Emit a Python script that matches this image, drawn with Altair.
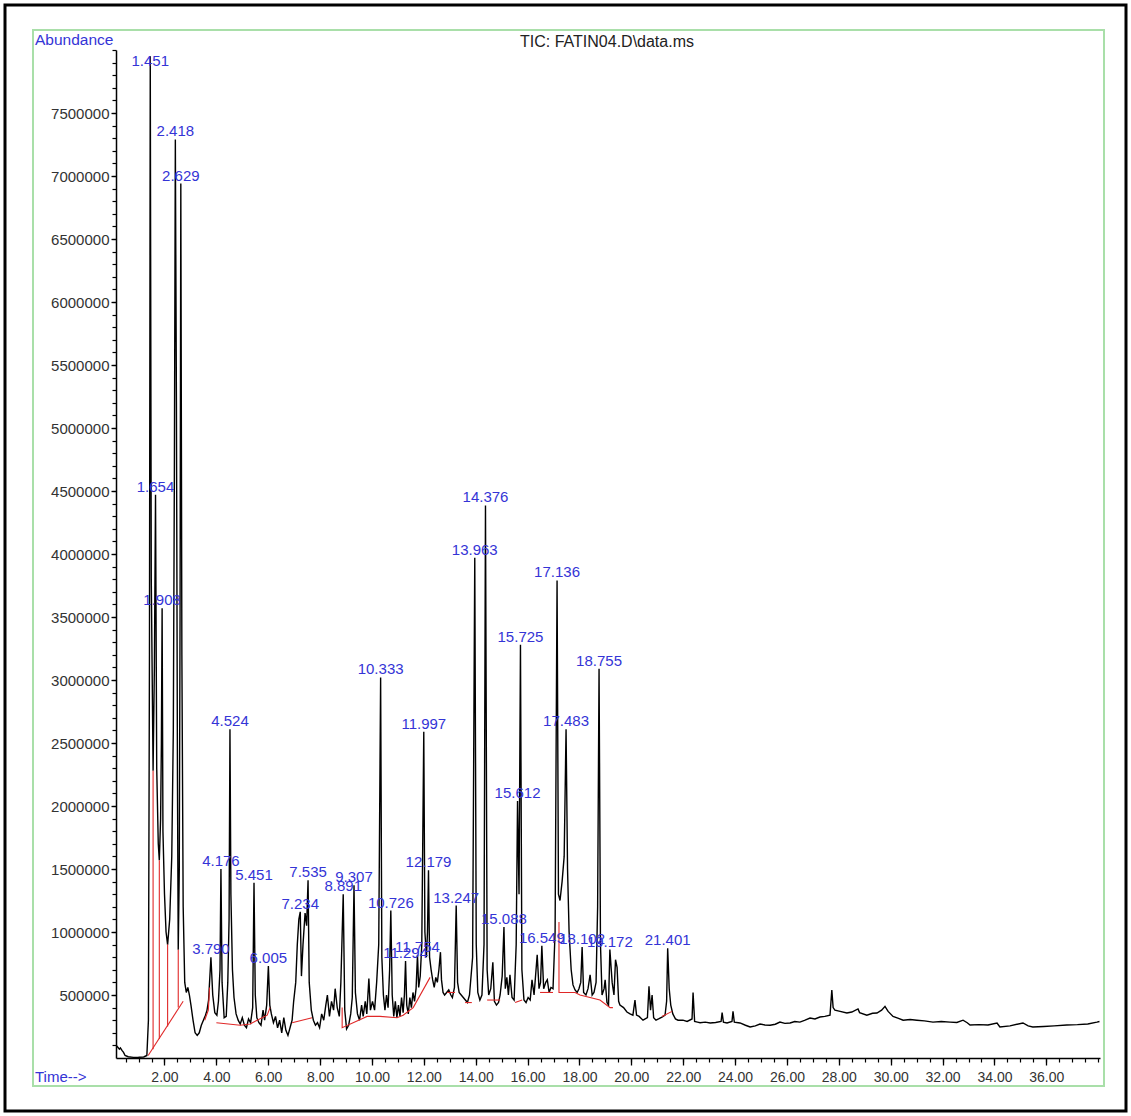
import altair as alt
import pandas as pd

# ---- labelled peaks: retention time text and apex abundance ----
peak_labels = ["1.451", "1.654", "1.908", "2.418", "2.629", "3.790", "4.176", "4.524",
               "5.451", "6.005", "7.234", "7.535", "8.891", "9.307", "10.333", "10.726",
               "11.294", "11.754", "11.997", "12.179", "13.247", "13.963", "14.376",
               "15.088", "15.612", "15.725", "16.549", "17.136", "17.483", "18.102",
               "18.755", "19.172", "21.401"]
peak_apex = [7950000, 4470000, 3570000, 7290000, 6940000, 800000, 1500000, 2610000,
             1390000, 730000, 1160000, 1410000, 1300000, 1370000, 3020000, 1170000,
             770000, 820000, 2590000, 1490000, 1210000, 3970000, 4385000,
             1040000, 2040000, 3280000, 890000, 3790000, 2610000, 880000,
             3090000, 860000, 870000]

# ---- TIC trace between the labelled apexes (time in min, abundance) ----
trace_time = [
    0.14, 0.20, 0.26, 0.30, 0.36, 0.42, 0.48, 0.60, 0.80, 1.00, 1.20, 1.32,
    1.38, 1.42, 1.49, 1.56, 1.61, 1.70, 1.76, 1.80, 1.85, 1.88, 1.94, 2.00,
    2.06, 2.12, 2.20, 2.28, 2.34, 2.38, 2.46, 2.50, 2.53, 2.57, 2.60, 2.67,
    2.72, 2.78, 2.84, 2.90, 2.96, 3.02,
    3.10, 3.18, 3.26, 3.34, 3.42, 3.50, 3.58, 3.64, 3.70, 3.86, 3.94, 4.02,
    4.08, 4.14, 4.22, 4.30, 4.38, 4.44, 4.49, 4.56, 4.62, 4.68, 4.76, 4.84,
    4.92, 5.00, 5.08, 5.16, 5.24, 5.32, 5.40, 5.50, 5.56, 5.64, 5.72, 5.80,
    5.86, 5.94, 6.06, 6.12, 6.20, 6.28, 6.36, 6.44, 6.52, 6.60, 6.68, 6.76,
    6.84, 6.92, 6.98, 7.06, 7.12, 7.18, 7.28, 7.34, 7.42, 7.48, 7.58, 7.66,
    7.74, 7.82, 7.90, 7.98, 8.06, 8.14, 8.22, 8.28, 8.36, 8.44, 8.52, 8.58,
    8.66, 8.74, 8.80, 8.95, 9.02, 9.10, 9.18, 9.24, 9.36, 9.44, 9.52, 9.60,
    9.66, 9.74, 9.80, 9.88, 9.94, 10.02, 10.10, 10.18, 10.26, 10.38, 10.44,
    10.50, 10.56, 10.62, 10.68, 10.78, 10.84, 10.90, 10.96, 11.02, 11.08,
    11.14, 11.20, 11.25, 11.34, 11.40, 11.46, 11.52, 11.58, 11.64, 11.70,
    11.80, 11.86, 11.92, 12.04, 12.10, 12.14, 12.22, 12.28, 12.34, 12.40,
    12.46, 12.52, 12.58, 12.64, 12.68, 12.74, 12.80, 12.88, 12.96, 13.04,
    13.10, 13.18, 13.30, 13.36, 13.44, 13.52, 13.60, 13.68, 13.76, 13.88,
    14.02, 14.08, 14.16, 14.24, 14.32, 14.44, 14.50, 14.58, 14.66, 14.72,
    14.80, 14.88, 14.94, 15.02, 15.14, 15.20, 15.26, 15.32, 15.40, 15.48,
    15.56, 15.67, 15.78, 15.86, 15.94, 16.02, 16.10, 16.17, 16.25, 16.37,
    16.44, 16.50, 16.62, 16.70, 16.76, 16.83, 16.90, 16.98, 17.06, 17.19,
    17.25, 17.33, 17.41, 17.54, 17.60, 17.68, 17.75, 17.83, 17.91, 17.98,
    18.05, 18.16, 18.25, 18.33, 18.41, 18.49, 18.56, 18.64, 18.70, 18.81,
    18.87, 18.95, 18.99, 19.06, 19.12, 19.26, 19.33, 19.39, 19.45, 19.51,
    19.56, 19.70, 19.83, 19.95, 20.06, 20.14, 20.20, 20.30, 20.45, 20.62,
    20.68, 20.74, 20.80, 20.86, 20.95, 21.05, 21.18, 21.30, 21.36, 21.46,
    21.52, 21.60, 21.70, 21.80, 21.99, 22.15, 22.34, 22.38, 22.44, 22.55,
    22.65, 22.85, 23.04, 23.25, 23.46, 23.50, 23.55, 23.69, 23.88, 23.92,
    23.97, 24.19, 24.40, 24.58, 24.78, 24.96, 25.15, 25.35, 25.55, 25.73,
    25.92, 26.12, 26.30, 26.50, 26.70, 26.89, 27.08, 27.27, 27.46, 27.66,
    27.73, 27.78, 27.85, 28.05, 28.31, 28.50, 28.74, 28.80, 29.08, 29.30,
    29.47, 29.65, 29.78, 29.90, 30.09, 30.30, 30.48, 30.75, 31.01, 31.30,
    31.63, 31.95, 32.29, 32.55, 32.79, 32.95, 33.06, 33.40, 33.75, 34.10,
    34.21, 34.60, 35.10, 35.30, 35.48, 35.90, 36.30, 36.79, 37.20, 37.60,
    37.95, 38.05,
]
trace_abundance = [
    100000, 85000, 70000, 80000, 60000, 45000, 20000, 10000, 5000, 6000, 8000, 20000,
    300000, 3200000, 3800000, 2280000, 3100000, 2300000, 1700000, 1570000, 1900000, 2500000, 1800000, 1300000,
    1000000, 900000, 1100000, 1600000, 2600000, 4600000, 5200000, 2200000, 860000, 1500000, 3500000, 3200000,
    1200000, 600000, 520000, 560000, 500000, 420000,
    300000, 200000, 180000, 200000, 260000, 300000, 340000, 380000, 460000, 500000, 360000, 340000,
    450000, 700000, 600000, 320000, 330000, 600000, 1100000, 1300000, 700000, 480000, 350000, 300000,
    270000, 320000, 260000, 240000, 310000, 280000, 400000, 500000, 320000, 280000, 260000, 380000,
    300000, 420000, 420000, 350000, 280000, 330000, 240000, 300000, 200000, 320000, 220000, 180000,
    240000, 300000, 450000, 600000, 900000, 1100000, 650000, 900000, 1150000, 1050000, 600000, 380000,
    300000, 260000, 280000, 240000, 350000, 300000, 420000, 500000, 330000, 450000, 380000, 550000,
    400000, 330000, 600000, 380000, 230000, 260000, 350000, 480000, 520000, 350000, 300000, 420000,
    330000, 450000, 350000, 630000, 380000, 450000, 380000, 600000, 900000, 800000, 500000,
    380000, 500000, 400000, 700000, 500000, 330000, 450000, 320000, 420000, 330000,
    480000, 360000, 500000, 420000, 350000, 480000, 400000, 520000, 450000, 550000,
    560000, 650000, 900000, 1000000, 800000, 1000000, 800000, 700000, 620000, 560000,
    640000, 600000, 700000, 840000, 620000, 520000, 500000, 520000, 540000, 500000,
    480000, 560000, 600000, 520000, 500000, 480000, 460000, 440000, 500000, 800000,
    900000, 520000, 460000, 500000, 900000, 700000, 500000, 550000, 760000, 450000,
    420000, 440000, 500000, 650000, 550000, 640000, 500000, 660000, 480000, 460000,
    900000, 1300000, 700000, 460000, 440000, 480000, 460000, 620000, 500000, 820000,
    550000, 600000, 550000, 600000, 620000, 520000, 560000, 550000, 1000000, 1300000,
    1250000, 1400000, 1600000, 1500000, 1000000, 700000, 580000, 540000, 520000, 550000,
    600000, 520000, 500000, 550000, 660000, 500000, 520000, 600000, 1200000, 900000,
    500000, 550000, 620000, 440000, 420000, 600000, 500000, 780000, 720000, 450000,
    420000, 400000, 365000, 350000, 340000, 460000, 340000, 330000, 300000, 320000,
    570000, 380000, 500000, 320000, 300000, 310000, 325000, 340000, 450000, 550000,
    420000, 350000, 310000, 300000, 300000, 290000, 310000, 520000, 290000, 285000,
    280000, 285000, 278000, 282000, 290000, 360000, 285000, 278000, 290000, 370000,
    285000, 278000, 260000, 246000, 255000, 270000, 262000, 260000, 268000, 285000,
    275000, 278000, 290000, 285000, 300000, 317000, 310000, 325000, 330000, 340000,
    540000, 400000, 380000, 370000, 357000, 365000, 390000, 360000, 340000, 355000,
    357000, 380000, 410000, 370000, 330000, 315000, 300000, 305000, 300000, 295000,
    285000, 290000, 285000, 282000, 300000, 280000, 262000, 265000, 262000, 278000,
    246000, 255000, 278000, 255000, 246000, 250000, 255000, 262000, 265000, 270000,
    285000, 290000,
]

# ---- integration baselines and drop lines (red) ----
base_segment = ["a", "a", "b", "b", "c", "c", "d", "d", "e", "e",
                "f", "f", "f", "g", "g", "g", "g", "g",
                "h", "h", "i", "i", "i", "i", "i", "i", "i", "i",
                "j", "j", "k", "k", "l", "l", "m", "m", "n", "n",
                "o", "o", "o", "o", "o", "o", "o", "p", "p"]
base_time = [1.37, 2.72, 1.56, 1.56, 1.80, 1.80, 2.12, 2.12, 2.53, 2.53,
             3.55, 3.69, 3.74, 4.00, 4.92, 5.30, 5.96, 6.07,
             6.92, 7.69, 8.85, 8.85, 9.81, 10.31, 10.97, 11.20, 11.59, 12.24,
             12.90, 13.20, 13.59, 13.85, 14.44, 14.94, 15.52, 15.79, 16.48, 16.98,
             17.21, 17.21, 17.83, 18.02, 18.79, 19.18, 19.29, 21.18, 21.57]
base_abundance = [20000, 450000, 70000, 2280000, 150000, 1570000, 250000, 900000, 400000, 860000,
                  300000, 380000, 560000, 280000, 260000, 270000, 340000, 400000,
                  280000, 320000, 400000, 240000, 330000, 330000, 320000, 340000, 400000, 640000,
                  520000, 520000, 440000, 440000, 460000, 460000, 440000, 460000, 520000, 520000,
                  1080000, 520000, 520000, 500000, 460000, 400000, 400000, 330000, 370000]

# ---- axis ticks ----
x_major = [2, 4, 6, 8, 10, 12, 14, 16, 18, 20, 22, 24, 26, 28, 30, 32, 34, 36]
x_minor = [0.5 * i for i in range(1, 77)]
y_major = [500000 * i for i in range(1, 16)]
y_minor = [100000 * i for i in range(1, 81)]

# ---- tables ----
peaks = pd.DataFrame({"time": [float(s) for s in peak_labels],
                      "abundance": peak_apex, "label": peak_labels})
peaks["label_at"] = peaks["abundance"].clip(upper=7850000)
trace = pd.concat([pd.DataFrame({"time": trace_time, "abundance": trace_abundance}),
                   peaks[["time", "abundance"]]]).sort_values("time").reset_index(drop=True)
trace["idx"] = range(len(trace))
base = pd.DataFrame({"seg": base_segment, "time": base_time, "abundance": base_abundance})
base["idx"] = range(len(base))
one = pd.DataFrame({"k": [0]})

FONT = "Liberation Sans"
BLUE = "#3434d6"
W, H = 984, 1008

x_scale = alt.Scale(domain=[0.13, 38.07], nice=False, zero=False)
y_scale = alt.Scale(domain=[0, 8000000], nice=False, zero=True)

x_axis = alt.Axis(
    orient="bottom", values=x_major, format=".2f", title=None, grid=False,
    labelOverlap=False, labelFlush=False, tickSize=7,
    labelFont=FONT, labelFontSize=14, labelColor="#333333", labelPadding=5,
    domainColor="black", domainWidth=1.5, tickColor="black", tickWidth=1.3,
)
y_axis = alt.Axis(
    orient="left", values=y_major, format="d", title=None, grid=False,
    labelOverlap=False, labelFlush=False, tickSize=5,
    labelFont=FONT, labelFontSize=15, labelColor="#333333", labelPadding=2,
    domainColor="black", domainWidth=1.5, tickColor="black", tickWidth=1.3,
)
x_minor_axis = alt.Axis(
    orient="bottom", values=x_minor, labels=False, domain=False, title=None,
    grid=False, tickSize=4, tickColor="black", tickWidth=1.2,
)
y_minor_axis = alt.Axis(
    orient="left", values=y_minor, labels=False, domain=False, title=None,
    grid=False, tickSize=4, tickColor="black", tickWidth=1.2,
)

trace_line = alt.Chart(trace).mark_line(color="black", strokeWidth=1.4).encode(
    x=alt.X("time:Q", scale=x_scale, axis=x_axis),
    y=alt.Y("abundance:Q", scale=y_scale, axis=y_axis),
    order="idx:Q",
)

minor_ticks = alt.Chart(trace).mark_point(opacity=0).encode(
    x=alt.X("time:Q", scale=x_scale, axis=x_minor_axis),
    y=alt.Y("abundance:Q", scale=y_scale, axis=y_minor_axis),
)

baselines = alt.Chart(base).mark_line(color="#e02828", strokeWidth=1.1).encode(
    x=alt.X("time:Q", scale=x_scale, axis=None),
    y=alt.Y("abundance:Q", scale=y_scale, axis=None),
    detail="seg:N",
    order="idx:Q",
)

peak_text = alt.Chart(peaks).mark_text(
    font=FONT, fontSize=15, color=BLUE, align="center", baseline="alphabetic", dy=-3
).encode(
    x=alt.X("time:Q", scale=x_scale, axis=None),
    y=alt.Y("label_at:Q", scale=y_scale, axis=None),
    text="label:N",
)

outer_frame = alt.Chart(one).mark_rect(fillOpacity=0, stroke="black", strokeWidth=3).encode(
    x=alt.value(-111), x2=alt.value(1010), y=alt.value(-45), y2=alt.value(1061)
)
inner_frame = alt.Chart(one).mark_rect(fillOpacity=0, stroke="#a9dfa9", strokeWidth=2).encode(
    x=alt.value(-83), x2=alt.value(988), y=alt.value(-20), y2=alt.value(1036)
)
abundance_text = alt.Chart(one).mark_text(
    font=FONT, fontSize=15.5, color=BLUE, align="left", baseline="middle"
).encode(x=alt.value(-81), y=alt.value(-10), text=alt.value("Abundance"))
time_text = alt.Chart(one).mark_text(
    font=FONT, fontSize=15, color=BLUE, align="left", baseline="middle"
).encode(x=alt.value(-81), y=alt.value(1027), text=alt.value("Time-->"))
title_text = alt.Chart(one).mark_text(
    font=FONT, fontSize=16, color="#222222", align="center", baseline="middle"
).encode(x=alt.value(491), y=alt.value(-8), text=alt.value("TIC: FATIN04.D\\data.ms"))

chart = alt.layer(
    outer_frame, inner_frame, minor_ticks, trace_line, baselines, peak_text,
    abundance_text, time_text, title_text,
).resolve_axis(
    x="independent", y="independent"
).properties(
    width=W, height=H,
    autosize=alt.AutoSizeParams(type="none"),
    padding={"left": 116, "top": 50, "right": 31, "bottom": 58},
    background="white",
).configure_view(stroke=None)

chart.save("out.html", embed_options={"renderer": "svg", "actions": False})
